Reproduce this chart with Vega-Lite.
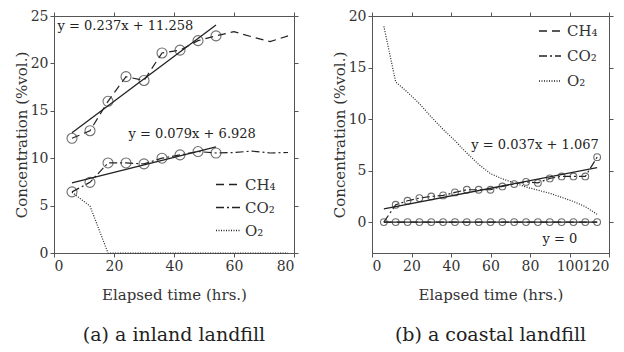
{
  "$schema": "https://vega.github.io/schema/vega-lite/v6.json",
  "padding": {"left": 13, "top": 8, "right": 0, "bottom": 5},
  "background": "white",
  "config": {
    "font": "DejaVu Serif",
    "view": {"stroke": "#555", "strokeWidth": 1},
    "axis": {"grid": false, "domainColor": "#555", "tickColor": "#555", "tickSize": 4, "labelFontSize": 14, "labelColor": "#333", "labelOverlap": false, "titleFontSize": 15, "titleFontWeight": "normal", "titleColor": "#333", "labelFont": "DejaVu Serif", "titleFont": "DejaVu Serif"},
    "legend": {"labelFont": "DejaVu Serif", "labelFontSize": 15, "labelColor": "#333", "padding": 0},
    "title": {"font": "DejaVu Serif", "fontSize": 19, "fontWeight": "normal", "color": "#222"}
  },
  "spacing": 32,
  "resolve": {"scale": {"strokeDash": "independent", "x": "independent", "y": "independent"}, "legend": {"strokeDash": "independent"}},
  "hconcat": [
    {
      "width": 240,
      "height": 237,
      "title": {"text": "(a) a inland landfill", "orient": "bottom", "offset": 24},
      "resolve": {"axis": {"x": "independent", "y": "independent"}},
      "layer": [
        {
          "data": {"values": [
            {"x": 6, "y": 12.1, "s": "CH₄"}, {"x": 12, "y": 12.9, "s": "CH₄"}, {"x": 18, "y": 16.0, "s": "CH₄"}, {"x": 24, "y": 18.6, "s": "CH₄"}, {"x": 30, "y": 18.2, "s": "CH₄"}, {"x": 36, "y": 21.1, "s": "CH₄"}, {"x": 42, "y": 21.4, "s": "CH₄"}, {"x": 48, "y": 22.4, "s": "CH₄"}, {"x": 54, "y": 22.9, "s": "CH₄"}, {"x": 60, "y": 23.35, "s": "CH₄"}, {"x": 66, "y": 22.8, "s": "CH₄"}, {"x": 72, "y": 22.3, "s": "CH₄"}, {"x": 78, "y": 22.9, "s": "CH₄"},
            {"x": 6, "y": 6.45, "s": "CO₂"}, {"x": 12, "y": 7.45, "s": "CO₂"}, {"x": 18, "y": 9.5, "s": "CO₂"}, {"x": 24, "y": 9.5, "s": "CO₂"}, {"x": 30, "y": 9.4, "s": "CO₂"}, {"x": 36, "y": 10.0, "s": "CO₂"}, {"x": 42, "y": 10.35, "s": "CO₂"}, {"x": 48, "y": 10.7, "s": "CO₂"}, {"x": 54, "y": 10.55, "s": "CO₂"}, {"x": 60, "y": 10.6, "s": "CO₂"}, {"x": 66, "y": 10.75, "s": "CO₂"}, {"x": 72, "y": 10.55, "s": "CO₂"}, {"x": 78, "y": 10.6, "s": "CO₂"},
            {"x": 6, "y": 6.4, "s": "O₂"}, {"x": 12, "y": 4.95, "s": "O₂"}, {"x": 18, "y": 0, "s": "O₂"}, {"x": 24, "y": 0, "s": "O₂"}, {"x": 30, "y": 0, "s": "O₂"}, {"x": 36, "y": 0, "s": "O₂"}, {"x": 42, "y": 0, "s": "O₂"}, {"x": 48, "y": 0, "s": "O₂"}, {"x": 54, "y": 0, "s": "O₂"}, {"x": 60, "y": 0, "s": "O₂"}, {"x": 66, "y": 0, "s": "O₂"}, {"x": 72, "y": 0, "s": "O₂"}, {"x": 78, "y": 0, "s": "O₂"}
          ]},
          "mark": {"type": "line", "color": "#222", "strokeWidth": 1.2},
          "encoding": {
            "x": {"field": "x", "type": "quantitative", "scale": {"domain": [0, 80], "nice": false}, "axis": {"orient": "bottom", "values": [0, 20, 40, 60, 80], "title": "Elapsed time (hrs.)", "titlePadding": 14}},
            "y": {"field": "y", "type": "quantitative", "scale": {"domain": [0, 25], "nice": false, "zero": false}, "axis": {"orient": "left", "values": [0, 5, 10, 15, 20, 25], "title": "Concentration (%vol.)", "titlePadding": 1}},
            "strokeDash": {"field": "s", "type": "nominal", "scale": {"domain": ["CH₄", "CO₂", "O₂"], "range": [[8, 5], [8, 3, 2, 3], [1, 1.5]]},
              "legend": {"title": null, "orient": "none", "legendX": 161, "legendY": 155, "symbolType": "stroke", "symbolSize": 625, "symbolStrokeColor": "#222", "symbolStrokeWidth": 1.5, "rowPadding": 1, "labelOffset": 3}}
          }
        },
        {
          "data": {"values": [
            {"x": 6, "y": 12.1}, {"x": 12, "y": 12.9}, {"x": 18, "y": 16.0}, {"x": 24, "y": 18.6}, {"x": 30, "y": 18.2}, {"x": 36, "y": 21.1}, {"x": 42, "y": 21.4}, {"x": 48, "y": 22.4}, {"x": 54, "y": 22.9},
            {"x": 6, "y": 6.45}, {"x": 12, "y": 7.45}, {"x": 18, "y": 9.5}, {"x": 24, "y": 9.5}, {"x": 30, "y": 9.4}, {"x": 36, "y": 10.0}, {"x": 42, "y": 10.35}, {"x": 48, "y": 10.7}, {"x": 54, "y": 10.55}
          ]},
          "mark": {"type": "point", "shape": "circle", "filled": false, "size": 100, "color": "#333", "strokeWidth": 1.1},
          "encoding": {
            "x": {"field": "x", "type": "quantitative", "axis": null},
            "y": {"field": "y", "type": "quantitative", "axis": null}
          }
        },
        {
          "data": {"values": [
            {"x": 6, "y": 12.68, "f": "a"}, {"x": 54, "y": 24.06, "f": "a"},
            {"x": 6, "y": 7.40, "f": "b"}, {"x": 54, "y": 11.19, "f": "b"}
          ]},
          "mark": {"type": "line", "color": "#222", "strokeWidth": 1.3},
          "encoding": {
            "x": {"field": "x", "type": "quantitative", "axis": {"orient": "top", "labels": false, "title": null, "domain": false, "values": [0, 20, 40, 60, 80]}},
            "y": {"field": "y", "type": "quantitative", "axis": {"orient": "right", "labels": false, "title": null, "domain": false, "values": [0, 5, 10, 15, 20, 25]}},
            "detail": {"field": "f"}
          }
        },
        {
          "data": {"values": [
            {"x": 1.2, "y": 23.9, "t": "y = 0.237x + 11.258"},
            {"x": 24.8, "y": 12.55, "t": "y = 0.079x + 6.928"}
          ]},
          "mark": {"type": "text", "align": "left", "baseline": "middle", "fontSize": 13, "color": "#222"},
          "encoding": {
            "x": {"field": "x", "type": "quantitative", "axis": null},
            "y": {"field": "y", "type": "quantitative", "axis": null},
            "text": {"field": "t"}
          }
        }
      ]
    },
    {
      "width": 237,
      "height": 237,
      "title": {"text": "(b) a coastal landfill", "orient": "bottom", "offset": 24},
      "resolve": {"axis": {"x": "independent", "y": "independent"}},
      "layer": [
        {
          "data": {"values": [
            {"x": 6, "y": 0, "s": "CH₄"}, {"x": 12, "y": 0, "s": "CH₄"}, {"x": 18, "y": 0, "s": "CH₄"}, {"x": 24, "y": 0, "s": "CH₄"}, {"x": 30, "y": 0, "s": "CH₄"}, {"x": 36, "y": 0, "s": "CH₄"}, {"x": 42, "y": 0, "s": "CH₄"}, {"x": 48, "y": 0, "s": "CH₄"}, {"x": 54, "y": 0, "s": "CH₄"}, {"x": 60, "y": 0, "s": "CH₄"}, {"x": 66, "y": 0, "s": "CH₄"}, {"x": 72, "y": 0, "s": "CH₄"}, {"x": 78, "y": 0, "s": "CH₄"}, {"x": 84, "y": 0, "s": "CH₄"}, {"x": 90, "y": 0, "s": "CH₄"}, {"x": 96, "y": 0, "s": "CH₄"}, {"x": 102, "y": 0, "s": "CH₄"}, {"x": 108, "y": 0, "s": "CH₄"}, {"x": 114, "y": 0, "s": "CH₄"},
            {"x": 6, "y": 0, "s": "CO₂"}, {"x": 12, "y": 1.68, "s": "CO₂"}, {"x": 18, "y": 2.07, "s": "CO₂"}, {"x": 24, "y": 2.33, "s": "CO₂"}, {"x": 30, "y": 2.49, "s": "CO₂"}, {"x": 36, "y": 2.59, "s": "CO₂"}, {"x": 42, "y": 2.88, "s": "CO₂"}, {"x": 48, "y": 3.14, "s": "CO₂"}, {"x": 54, "y": 3.14, "s": "CO₂"}, {"x": 60, "y": 3.14, "s": "CO₂"}, {"x": 66, "y": 3.46, "s": "CO₂"}, {"x": 72, "y": 3.69, "s": "CO₂"}, {"x": 78, "y": 3.9, "s": "CO₂"}, {"x": 84, "y": 3.8, "s": "CO₂"}, {"x": 90, "y": 4.24, "s": "CO₂"}, {"x": 96, "y": 4.43, "s": "CO₂"}, {"x": 102, "y": 4.43, "s": "CO₂"}, {"x": 108, "y": 4.43, "s": "CO₂"}, {"x": 114, "y": 6.3, "s": "CO₂"},
            {"x": 6, "y": 19.0, "s": "O₂"}, {"x": 12, "y": 13.6, "s": "O₂"}, {"x": 18, "y": 12.6, "s": "O₂"}, {"x": 24, "y": 11.5, "s": "O₂"}, {"x": 30, "y": 10.2, "s": "O₂"}, {"x": 36, "y": 9.0, "s": "O₂"}, {"x": 42, "y": 7.9, "s": "O₂"}, {"x": 48, "y": 6.7, "s": "O₂"}, {"x": 54, "y": 5.6, "s": "O₂"}, {"x": 60, "y": 4.7, "s": "O₂"}, {"x": 66, "y": 4.2, "s": "O₂"}, {"x": 72, "y": 3.8, "s": "O₂"}, {"x": 78, "y": 3.4, "s": "O₂"}, {"x": 84, "y": 3.1, "s": "O₂"}, {"x": 90, "y": 2.8, "s": "O₂"}, {"x": 96, "y": 2.4, "s": "O₂"}, {"x": 102, "y": 2.0, "s": "O₂"}, {"x": 108, "y": 1.5, "s": "O₂"}, {"x": 114, "y": 0.75, "s": "O₂"}
          ]},
          "mark": {"type": "line", "color": "#222", "strokeWidth": 1.2},
          "encoding": {
            "x": {"field": "x", "type": "quantitative", "scale": {"domain": [0, 120], "nice": false}, "axis": {"orient": "bottom", "values": [0, 20, 40, 60, 80, 100, 120], "title": "Elapsed time (hrs.)", "titlePadding": 14}},
            "y": {"field": "y", "type": "quantitative", "scale": {"domain": [-3, 20], "nice": false, "zero": false}, "axis": {"orient": "left", "values": [0, 5, 10, 15, 20], "title": "Concentration (%vol.)", "titlePadding": 1}},
            "strokeDash": {"field": "s", "type": "nominal", "scale": {"domain": ["CH₄", "CO₂", "O₂"], "range": [[8, 5], [8, 3, 2, 3], [1, 1.5]]},
              "legend": {"title": null, "orient": "none", "legendX": 166, "legendY": 3, "symbolType": "stroke", "symbolSize": 484, "symbolStrokeColor": "#222", "symbolStrokeWidth": 1.5, "rowPadding": 5, "labelOffset": 5}}
          }
        },
        {
          "data": {"values": [
            {"x": 6, "y": 0}, {"x": 12, "y": 0}, {"x": 18, "y": 0}, {"x": 24, "y": 0}, {"x": 30, "y": 0}, {"x": 36, "y": 0}, {"x": 42, "y": 0}, {"x": 48, "y": 0}, {"x": 54, "y": 0}, {"x": 60, "y": 0}, {"x": 66, "y": 0}, {"x": 72, "y": 0}, {"x": 78, "y": 0}, {"x": 84, "y": 0}, {"x": 90, "y": 0}, {"x": 96, "y": 0}, {"x": 102, "y": 0}, {"x": 108, "y": 0}, {"x": 114, "y": 0},
            {"x": 12, "y": 1.68}, {"x": 18, "y": 2.07}, {"x": 24, "y": 2.33}, {"x": 30, "y": 2.49}, {"x": 36, "y": 2.59}, {"x": 42, "y": 2.88}, {"x": 48, "y": 3.14}, {"x": 54, "y": 3.14}, {"x": 60, "y": 3.14}, {"x": 66, "y": 3.46}, {"x": 72, "y": 3.69}, {"x": 78, "y": 3.9}, {"x": 84, "y": 3.8}, {"x": 90, "y": 4.24}, {"x": 96, "y": 4.43}, {"x": 102, "y": 4.43}, {"x": 108, "y": 4.43}, {"x": 114, "y": 6.3}
          ]},
          "mark": {"type": "point", "shape": "circle", "filled": false, "size": 45, "color": "#333", "strokeWidth": 1.1},
          "encoding": {
            "x": {"field": "x", "type": "quantitative", "axis": null},
            "y": {"field": "y", "type": "quantitative", "axis": null}
          }
        },
        {
          "data": {"values": [
            {"x": 6, "y": 0, "f": "a"}, {"x": 114, "y": 0, "f": "a"},
            {"x": 6, "y": 1.29, "f": "b"}, {"x": 114, "y": 5.28, "f": "b"}
          ]},
          "mark": {"type": "line", "color": "#222", "strokeWidth": 1.3},
          "encoding": {
            "x": {"field": "x", "type": "quantitative", "axis": {"orient": "top", "labels": false, "title": null, "domain": false, "values": [0, 20, 40, 60, 80, 100, 120]}},
            "y": {"field": "y", "type": "quantitative", "axis": {"orient": "right", "labels": false, "title": null, "domain": false, "values": [0, 5, 10, 15, 20]}},
            "detail": {"field": "f"}
          }
        },
        {
          "data": {"values": [
            {"x": 114.8, "y": 7.5, "t": "y = 0.037x + 1.067"},
            {"x": 104, "y": -1.6, "t": "y = 0"}
          ]},
          "mark": {"type": "text", "align": "right", "baseline": "middle", "fontSize": 13, "color": "#222"},
          "encoding": {
            "x": {"field": "x", "type": "quantitative", "axis": null},
            "y": {"field": "y", "type": "quantitative", "axis": null},
            "text": {"field": "t"}
          }
        }
      ]
    }
  ]
}
